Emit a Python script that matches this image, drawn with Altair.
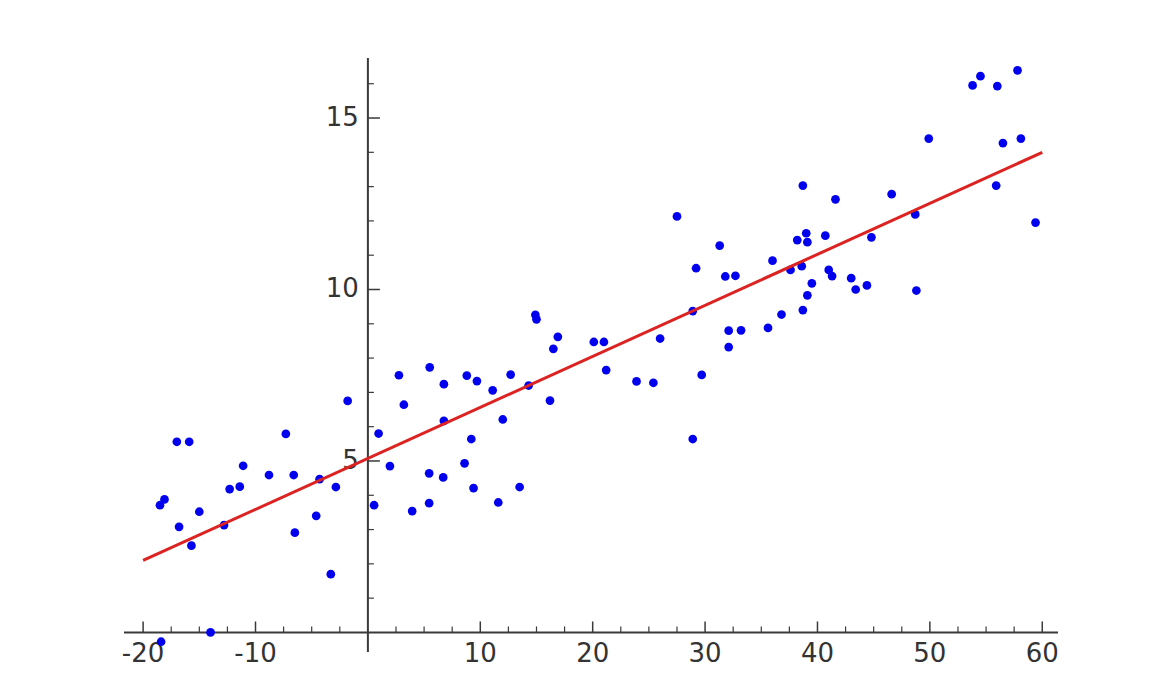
import altair as alt
import pandas as pd

# scatter data
xs = [-18.4, -14.0, -18.1, -18.5, -17.0, -15.9, -16.8, -15.7, -15.0, -12.8,
      -12.3, -11.4, -11.1, -8.8, -7.3, -6.6, -6.5, -4.6, -4.3, -3.3,
      -2.85, -1.8, 0.55, 0.95, 1.96, 2.76, 3.2, 3.94, 5.5, 5.45,
      5.45, 6.76, 6.76, 6.7, 8.6, 8.8, 9.2, 9.4, 9.7, 11.1,
      11.6, 12.0, 12.7, 13.5, 14.3, 14.9, 15.0, 16.2, 16.5, 16.9,
      20.1, 21.0, 21.2, 23.9, 25.4, 26.0, 27.5, 28.9, 28.9, 29.2,
      29.7, 31.3, 31.8, 32.1, 32.1, 32.7, 33.2, 35.6, 36.0, 36.8,
      37.6, 38.2, 38.7, 38.6, 38.7, 39.0, 39.1, 39.1, 39.5, 40.7,
      41.0, 41.3, 41.6, 43.0, 43.4, 44.4, 44.8, 46.6, 48.7, 48.8,
      49.9, 53.8, 54.5, 55.9, 56.0, 56.5, 57.8, 58.1, 59.4]
ys = [-0.27, 0.0, 3.88, 3.71, 5.56, 5.56, 3.08, 2.53, 3.52, 3.13,
      4.18, 4.25, 4.86, 4.59, 5.79, 4.59, 2.91, 3.40, 4.47, 1.70,
      4.24, 6.75, 3.71, 5.80, 4.85, 7.50, 6.64, 3.54, 7.73, 4.64,
      3.77, 7.24, 6.17, 4.52, 4.93, 7.49, 5.64, 4.21, 7.33, 7.06,
      3.79, 6.21, 7.52, 4.24, 7.20, 9.26, 9.13, 6.76, 8.27, 8.62,
      8.47, 8.47, 7.65, 7.32, 7.28, 8.57, 12.13, 9.37, 5.64, 10.62,
      7.51, 11.28, 10.38, 8.80, 8.32, 10.40, 8.81, 8.88, 10.84, 9.27,
      10.57, 11.44, 13.03, 10.68, 9.40, 11.64, 11.38, 9.83, 10.18, 11.57,
      10.57, 10.39, 12.63, 10.33, 10.00, 10.12, 11.52, 12.78, 12.19, 9.97,
      14.40, 15.95, 16.22, 13.03, 15.93, 14.27, 16.39, 14.40, 11.95]

# fitted line end points
line_x = [-20, 60]
line_y = [2.1, 14.0]

# axis ticks
x_major = [-20, -10, 10, 20, 30, 40, 50, 60]
x_labels = ["-20", "-10", "10", "20", "30", "40", "50", "60"]
x_minor = [-20 + 2.5 * i for i in range(33) if (-20 + 2.5 * i) % 10 != 0]
y_major = [5, 10, 15]
y_labels = ["5", "10", "15"]
y_minor = [i for i in range(1, 17) if i % 5 != 0]

x_domain = [-21.7, 61.4]
y_domain = [-0.57, 16.75]

xs_scale = alt.Scale(domain=x_domain, nice=False, zero=False)
ys_scale = alt.Scale(domain=y_domain, nice=False, zero=False)

AX = "#3a3a3a"
FONT = "DejaVu Sans"

pts = pd.DataFrame({"x": xs, "y": ys})
ln = pd.DataFrame({"x": line_x, "y": line_y})
xmaj = pd.DataFrame({"v": x_major, "t": x_labels})
xmin_ = pd.DataFrame({"v": x_minor})
ymaj = pd.DataFrame({"v": y_major, "t": y_labels})
ymin_ = pd.DataFrame({"v": y_minor})
axes_df = pd.DataFrame({"a": [0]})

X = lambda f: alt.X(f, type="quantitative", scale=xs_scale, axis=None)
Y = lambda f: alt.Y(f, type="quantitative", scale=ys_scale, axis=None)

x_axis_line = alt.Chart(axes_df).mark_rule(color=AX, strokeWidth=2).encode(
    x=alt.datum(x_domain[0], scale=xs_scale, axis=None),
    x2=alt.datum(x_domain[1]),
    y=alt.datum(0, scale=ys_scale, axis=None),
)
y_axis_line = alt.Chart(axes_df).mark_rule(color=AX, strokeWidth=2).encode(
    y=alt.datum(y_domain[0], scale=ys_scale, axis=None),
    y2=alt.datum(y_domain[1]),
    x=alt.datum(0, scale=xs_scale, axis=None),
)

x_major_ticks = alt.Chart(xmaj).mark_rule(color=AX, strokeWidth=1.5, y2Offset=-11).encode(
    x=X("v"), y=alt.datum(0, scale=ys_scale, axis=None), y2=alt.datum(0)
)
x_minor_ticks = alt.Chart(xmin_).mark_rule(color=AX, strokeWidth=1.2, y2Offset=-6).encode(
    x=X("v"), y=alt.datum(0, scale=ys_scale, axis=None), y2=alt.datum(0)
)
y_major_ticks = alt.Chart(ymaj).mark_rule(color=AX, strokeWidth=1.5, x2Offset=12).encode(
    y=Y("v"), x=alt.datum(0, scale=xs_scale, axis=None), x2=alt.datum(0)
)
y_minor_ticks = alt.Chart(ymin_).mark_rule(color=AX, strokeWidth=1.2, x2Offset=6).encode(
    y=Y("v"), x=alt.datum(0, scale=xs_scale, axis=None), x2=alt.datum(0)
)

x_text = alt.Chart(xmaj).mark_text(
    font=FONT, fontSize=26, color="#333333", baseline="top", align="center", dy=9
).encode(x=X("v"), y=alt.datum(0, scale=ys_scale, axis=None), text="t:N")
y_text = alt.Chart(ymaj).mark_text(
    font=FONT, fontSize=26, color="#333333", baseline="middle", align="right", dx=-9
).encode(y=Y("v"), x=alt.datum(0, scale=xs_scale, axis=None), text="t:N")

fit = alt.Chart(ln).mark_line(color="#dd2222", strokeWidth=3).encode(x=X("x"), y=Y("y"))

dots = alt.Chart(pts).mark_circle(color="#0000ee", opacity=1, size=76).encode(
    x=X("x"), y=Y("y")
)

chart = alt.layer(
    x_axis_line, y_axis_line, x_major_ticks, x_minor_ticks, y_major_ticks, y_minor_ticks,
    x_text, y_text, dots, fit
).properties(
    width=934, height=594,
    autosize=alt.AutoSizeParams(type="none"),
    padding={"left": 116, "top": 50, "right": 100, "bottom": 30},
    background="white",
).configure_view(stroke=None)

chart.save("out.html", embed_options={"renderer": "svg", "actions": False})
